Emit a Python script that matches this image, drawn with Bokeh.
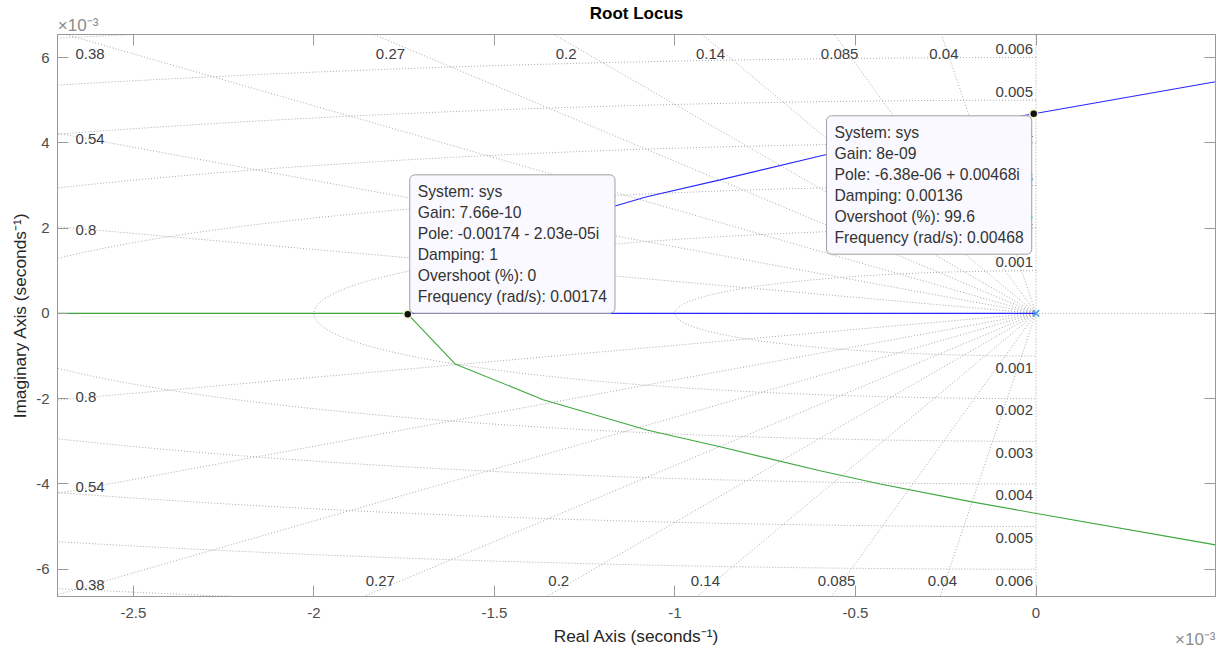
import numpy as np
from bokeh.plotting import figure
from bokeh.models import (Range1d, FixedTicker, CustomJSTickFormatter, LinearAxis, Label, Title)
from bokeh.embed import file_html
from bokeh.resources import INLINE
from bokeh.core.properties import value

# ---------------- data (units: seconds^-1) ----------------
X_RANGE = (-2.71e-3, 0.497e-3)
Y_RANGE = (-6.64e-3, 6.54e-3)
x_ticks = [-2.5e-3, -2.0e-3, -1.5e-3, -1.0e-3, -0.5e-3, 0.0]
y_ticks = [-6e-3, -4e-3, -2e-3, 0.0, 2e-3, 4e-3, 6e-3]

# s-plane grid
damping = [0.04, 0.085, 0.14, 0.2, 0.27, 0.38, 0.54, 0.8]
damping_text = ["0.04", "0.085", "0.14", "0.2", "0.27", "0.38", "0.54", "0.8"]
wn_circles = [0.001, 0.002, 0.003, 0.004, 0.005, 0.006, 0.007]
wn_labels = [0.001, 0.002, 0.003, 0.004, 0.005, 0.006]
wn_text = ["0.001", "0.002", "0.003", "0.004", "0.005", "0.006"]

# open-loop pole
pole_re = [0.0]
pole_im = [0.0]

# root-locus branches
blue_real_re = [0.0, -1.74e-3]          # branch 1 on real axis
green_real_re = [-2.80e-3, -1.74e-3]    # branch 2 on real axis
branch_re = [-1.74e-3, -1.609e-3, -1.365e-3, -1.078e-3, -0.875e-3, -0.598e-3,
             -0.432e-3, -0.178e-3, -0.00638e-3, 0.497e-3]
branch_im = [2.03e-5, 1.186e-3, 2.024e-3, 2.736e-3, 3.13e-3, 3.69e-3,
             4.0e-3, 4.42e-3, 4.68e-3, 5.43e-3]

# data tips
tip_re = [-0.00174, -6.38e-06]
tip_im = [-2.03e-05, 0.00468]
tip_text = [
    "System: sys\nGain: 7.66e-10\nPole: -0.00174 - 2.03e-05i\nDamping: 1\nOvershoot (%): 0\nFrequency (rad/s): 0.00174",
    "System: sys\nGain: 8e-09\nPole: -6.38e-06 + 0.00468i\nDamping: 0.00136\nOvershoot (%): 99.6\nFrequency (rad/s): 0.00468",
]
exp_text = "\u00d710\u207b\u00b3"

# ---------------- figure ----------------
FW, FH = 1158, 562
BL, BR, BT, BB = 57, 6, 34, 55
FONT = "Liberation Sans"
xmin, xmax = X_RANGE
ymin, ymax = Y_RANGE
dx = (xmax - xmin) / FW
dy = (ymax - ymin) / FH

p = figure(frame_width=FW, frame_height=FH,
           x_range=Range1d(xmin, xmax), y_range=Range1d(ymin, ymax),
           output_backend="svg", toolbar_location=None,
           min_border_left=BL, min_border_right=BR, min_border_top=BT, min_border_bottom=BB,
           background_fill_color="white", border_fill_color="white")
p.xgrid.visible = False
p.ygrid.visible = False
p.outline_line_color = "#9a9a9a"

p.title.text = "Root Locus"
p.title.align = "center"
p.title.text_font = FONT
p.title.text_font_size = "17px"
p.title.text_font_style = "bold"
p.title.text_color = "#000000"
try:
    p.title.standoff = -20
except Exception:
    p.title.standoff = 0

fmt = CustomJSTickFormatter(code="const v = Math.round(tick*1e7)/1e4; return v.toString();")
blank = CustomJSTickFormatter(code="return '';")

AX_COL = "#9a9a9a"
LBL_COL = "#4d4d4d"
EXP_COL = "#8c8c8c"

def style_axis(ax, ticks, formatter):
    ax.ticker = FixedTicker(ticks=ticks)
    ax.formatter = formatter
    ax.major_tick_in = 11
    ax.major_tick_out = 0
    ax.minor_tick_in = 0
    ax.minor_tick_out = 0
    ax.axis_line_color = AX_COL
    ax.major_tick_line_color = AX_COL
    ax.major_label_text_font = FONT
    ax.major_label_text_font_size = "15px"
    ax.major_label_text_color = LBL_COL
    ax.axis_label_text_font = FONT
    ax.axis_label_text_font_size = "17.3px"
    ax.axis_label_text_font_style = "normal"
    ax.axis_label_text_color = "#262626"

style_axis(p.xaxis[0], x_ticks, fmt)
style_axis(p.yaxis[0], y_ticks, fmt)
p.xaxis[0].axis_label = "Real Axis (seconds\u207b\u00b9)"
p.yaxis[0].axis_label = "Imaginary Axis (seconds\u207b\u00b9)"
p.xaxis[0].major_label_standoff = 11
p.xaxis[0].axis_label_standoff = 5
p.yaxis[0].major_label_standoff = 8
p.yaxis[0].axis_label_standoff = 3

# top axis: tick marks only, exponent as its start-aligned label
# (label is centred on the frame edge, so leading spaces push the visible part inside)
top_ax = LinearAxis()
style_axis(top_ax, x_ticks, blank)
top_ax.major_label_standoff = 0
top_ax.major_label_text_font_size = "0px"
top_ax.axis_label = "\u2007\u2007\u2007\u2007\u2009" + exp_text
top_ax.axis_label_align = "start"
top_ax.axis_label_standoff = 0
top_ax.axis_label_text_font_size = "17px"
top_ax.axis_label_text_color = EXP_COL
p.add_layout(top_ax, "above")

right_ax = LinearAxis()
style_axis(right_ax, y_ticks, blank)
right_ax.major_label_standoff = 0
right_ax.major_label_text_font_size = "0px"
p.add_layout(right_ax, "right")

# exponent of the x axis, lower right
exp_title = Title(text=exp_text, align="right", vertical_align="top", text_font=FONT,
                  text_font_size="17px", text_font_style="normal", text_color=EXP_COL)
try:
    exp_title.standoff = -38
except Exception:
    exp_title.standoff = 0
p.add_layout(exp_title, "below")

# ---------------- s-plane grid ----------------
R = 0.05
gxs, gys = [], []
for z in damping:
    c, s = z, np.sqrt(1 - z * z)
    gxs.append([0.0, -c * R]); gys.append([0.0, s * R])
    gxs.append([0.0, -c * R]); gys.append([0.0, -s * R])
th = np.linspace(np.pi / 2, 3 * np.pi / 2, 400)
for w in wn_circles:
    gxs.append(list(w * np.cos(th))); gys.append(list(w * np.sin(th)))
gxs.append([0.0, 0.0]); gys.append([-R, R])
gxs.append([-R, R]); gys.append([0.0, 0.0])
p.multi_line(gxs, gys, line_color="#a8a8a8", line_width=1, line_dash="1 2")

# damping labels
cx, cy, ct = [], [], []
lx, ly, lt = [], [], []
for z, zs in zip(damping, damping_text):
    k = np.sqrt(1 - z * z) / z
    for sgn, yedge in ((1, ymax), (-1, ymin)):
        x_edge = -(abs(yedge) - 7 * dy) / k
        if x_edge - xmin > 40 * dx:
            cx.append(x_edge)
            cy.append(yedge - sgn * (19 if sgn > 0 else 16) * dy)
            ct.append(zs)
        else:
            xc = xmin + 33 * dx
            yl = sgn * abs(xc) * k
            yl = min(max(yl, ymin + 7 * dy), ymax - 19 * dy)
            lx.append(xmin + 18 * dx)
            ly.append(yl)
            lt.append(zs)
p.text(x=cx, y=cy, text=ct, text_align="center", text_baseline="middle",
       text_font=value(FONT), text_font_size="15px", text_color="#404040")
p.text(x=lx, y=ly, text=lt, text_align="left", text_baseline="middle",
       text_font=value(FONT), text_font_size="15px", text_color="#404040")

# natural frequency labels
fx, fy, ft = [], [], []
for w, ws in zip(wn_labels, wn_text):
    fx += [-3 * dx, -3 * dx]
    fy += [w + 8.5 * dy, -w - 11.5 * dy]
    ft += [ws, ws]
p.text(x=fx, y=fy, text=ft, text_align="right", text_baseline="middle",
       text_font=value(FONT), text_font_size="15px", text_color="#404040")

# ---------------- locus ----------------
BLUE = "#2828ff"
GREEN = "#3da83d"
p.line(blue_real_re, [0.0, 0.0], line_color=BLUE, line_width=1.1)
p.line(green_real_re, [0.0, 0.0], line_color=GREEN, line_width=1.1)
p.line(branch_re, branch_im, line_color=BLUE, line_width=1.1)
p.line(branch_re, [-v for v in branch_im], line_color=GREEN, line_width=1.1)
p.scatter(pole_re, pole_im, marker="x", size=9, line_color="#4a9ee6", line_width=1.6)

# data tips
p.scatter(tip_re, tip_im, marker="circle", size=8, fill_color="#111111",
          line_color="#f4efc0", line_width=1.5)
tip_anchor = ["bottom_left", "top_right"]
tip_off = [(2, 1), (-2, -2)]
for x0, y0, a, (ox, oy), t in zip(tip_re, tip_im, tip_anchor, tip_off, tip_text):
    p.add_layout(Label(x=x0 + ox * dx, y=y0 + oy * dy, text=t, anchor=a,
                       text_align="left", text_baseline="middle",
                       text_font=FONT, text_font_size="15.7px", text_color="#333333",
                       text_line_height=1.24, padding=8,
                       background_fill_color="#f9f9ff", border_line_color="#a0a0a0",
                       border_line_width=1, border_radius=5))

open("out.html", "w").write(file_html(p, INLINE))
